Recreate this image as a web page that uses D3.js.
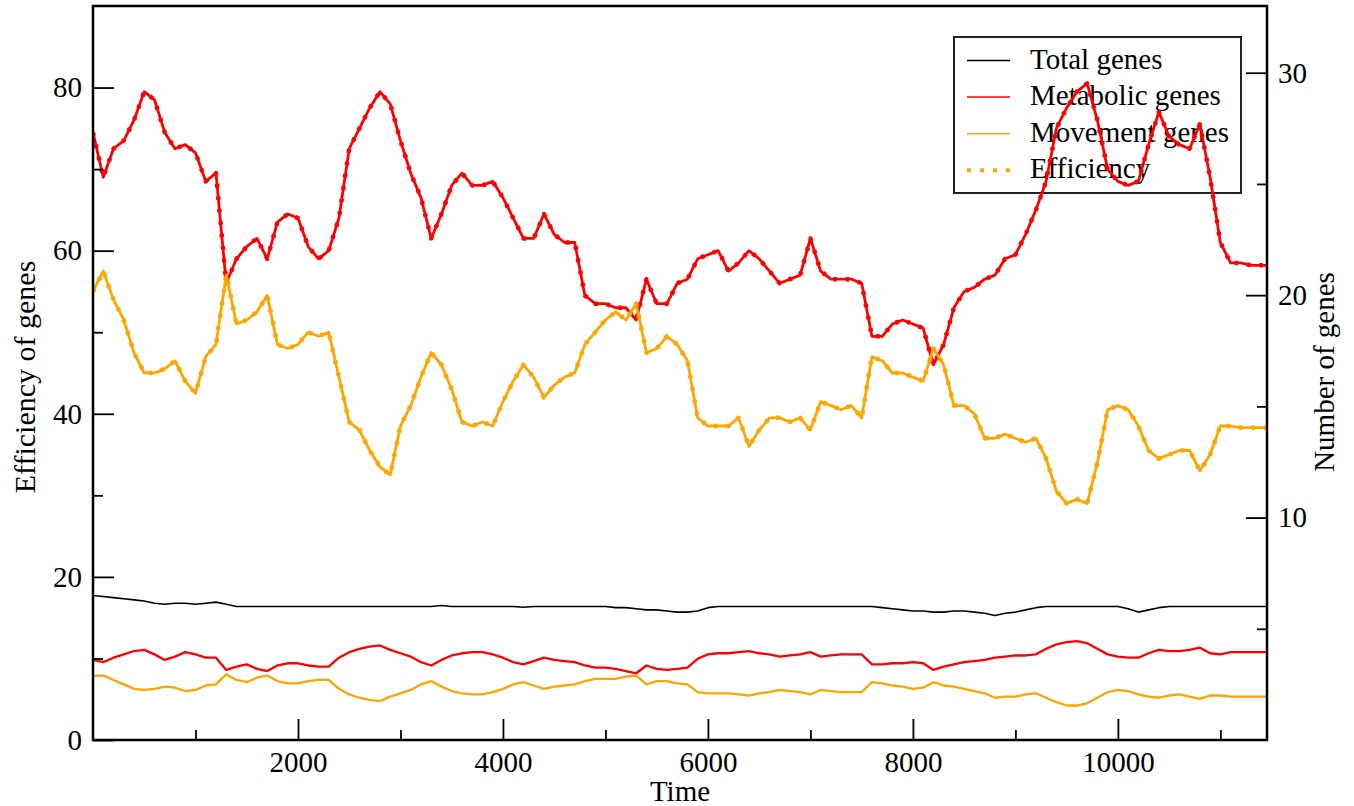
<!DOCTYPE html>
<html>
<head>
<meta charset="utf-8">
<script src="https://cdn.jsdelivr.net/npm/d3@7"></script>
<style>
  body { margin: 0; background: #fff; }
  svg text { font-family: "Liberation Serif", "Times New Roman", serif !important; fill: #000; }
</style>
</head>
<body>
<svg id="chart" width="1354" height="806"></svg>
<script>
// samples every 100 time units, from 0 to 11500
const timeStep = 100;

// efficiency (left axis)
const metabolicEfficiency = [
  74.5, 69, 72.5, 73.5, 76, 79.5, 78.5, 74.5, 72.5, 73,
  72, 68.5, 69.5, 56, 59, 60.5, 61.5, 59, 63.5, 64.5,
  64, 60.5, 59, 60, 64, 72.5, 75, 77.5, 79.5, 78,
  73.5, 69.5, 66.5, 61.5, 64.5, 68, 69.5, 68, 68, 68.5,
  66.5, 64, 61.5, 61.5, 64.5, 62, 61, 61, 54.5, 53.5,
  53.5, 53, 53, 51.5, 56.5, 53.5, 53.5, 56, 56.5, 59,
  59.5, 60, 57.5, 58.5, 60, 59, 57.5, 56, 56.5, 57,
  61.5, 57.5, 56.5, 56.5, 56.5, 56, 49.5, 49.5, 51, 51.5,
  51, 50.5, 46, 48.5, 53, 55, 55.5, 56.5, 57, 59,
  59.5, 62, 65, 68.5, 75, 77.5, 79.5, 80.5, 76, 70,
  68.5, 68, 68.5, 73, 77, 74, 73, 72.5, 75.5, 69,
  61, 58.5, 58.5, 58.2, 58.2, 58.2
];
const movementEfficiency = [
  55, 57.5, 54, 51.5, 47.5, 45, 45, 45.5, 46.5, 44,
  42.5, 47, 48.5, 57, 51, 51.5, 52.5, 54.5, 48.5, 48,
  48.5, 50, 49.5, 50, 44.5, 39, 38, 35.5, 33.5, 32.5,
  38.5, 41, 44.5, 47.5, 46, 43, 39, 38.5, 39, 38.5,
  41.5, 44, 46, 44.5, 42, 43.5, 44.5, 45, 48.5, 50,
  51.5, 52.5, 51.5, 53.5, 47.5, 48, 49.5, 48.5, 46.5, 39.5,
  38.5, 38.5, 38.5, 39.5, 36, 38, 39.5, 39.5, 39, 39.5,
  38, 41.5, 41, 40.5, 41, 39.5, 47, 46.5, 45, 45,
  44.5, 44, 48, 46, 41, 41, 40, 37, 37, 37.5,
  37, 36.5, 37, 34.5, 30.5, 29, 29.5, 29, 34, 40.5,
  41, 40.5, 38.5, 35.5, 34.5, 35, 35.5, 35.5, 33, 35,
  38.5, 38.5, 38.3, 38.3, 38.3, 38.3
];

// number of genes (right axis)
const totalGenes = [
  6.5, 6.45, 6.4, 6.35, 6.3, 6.25, 6.15, 6.1, 6.15, 6.15,
  6.1, 6.15, 6.2, 6.1, 6.0, 6, 6, 6, 6, 6,
  6, 6, 6, 6, 6, 6, 6, 6, 6, 6,
  6, 6, 6, 6, 6.05, 6, 6, 6, 6, 6,
  6, 6, 5.97, 6, 6, 6, 6, 6, 6, 6,
  6, 5.95, 5.95, 5.9, 5.85, 5.85, 5.8, 5.75, 5.75, 5.8,
  5.95, 6, 6, 6, 6, 6, 6, 6, 6, 6,
  6, 6, 6, 6, 6, 6, 6, 5.95, 5.9, 5.85,
  5.8, 5.8, 5.75, 5.75, 5.8, 5.8, 5.75, 5.7, 5.6, 5.7,
  5.75, 5.85, 5.95, 6, 6, 6, 6, 6, 6, 6,
  6, 5.9, 5.75, 5.85, 5.95, 6, 6, 6, 6, 6,
  6, 6, 6, 6, 6, 6
];
const metabolicGenes = [
  3.6, 3.5, 3.7, 3.85, 4.0, 4.05, 3.85, 3.6, 3.75, 3.95,
  3.85, 3.7, 3.7, 3.15, 3.3, 3.4, 3.2, 3.1, 3.35, 3.45,
  3.45, 3.35, 3.3, 3.3, 3.7, 3.95, 4.1, 4.2, 4.25, 4.05,
  3.9, 3.75, 3.5, 3.35, 3.6, 3.8, 3.9, 3.95, 3.95, 3.85,
  3.7, 3.5, 3.4, 3.55, 3.7, 3.6, 3.55, 3.5, 3.35, 3.25,
  3.25, 3.2, 3.1, 3.0, 3.35, 3.2, 3.15, 3.2, 3.25, 3.65,
  3.85, 3.9, 3.9, 3.95, 4.0, 3.9, 3.85, 3.75, 3.8, 3.85,
  3.95, 3.75, 3.8, 3.85, 3.85, 3.85, 3.4, 3.4, 3.45, 3.45,
  3.5, 3.45, 3.15, 3.3, 3.4, 3.5, 3.55, 3.6, 3.7, 3.75,
  3.8, 3.8, 3.85, 4.1, 4.3, 4.4, 4.45, 4.35, 4.1, 3.85,
  3.75, 3.7, 3.7, 3.9, 4.05, 4.0, 4.0, 4.05, 4.15, 3.9,
  3.85, 3.95, 3.95, 3.95, 3.95, 3.95
];
const movementGenes = [
  2.88, 2.9, 2.7, 2.5, 2.3, 2.25, 2.3, 2.4, 2.35, 2.2,
  2.25, 2.45, 2.5, 2.95, 2.7, 2.6, 2.8, 2.9, 2.65, 2.55,
  2.55, 2.65, 2.7, 2.7, 2.3, 2.05, 1.9, 1.8, 1.75, 1.95,
  2.1, 2.25, 2.5, 2.65, 2.4, 2.2, 2.1, 2.05, 2.05, 2.15,
  2.3, 2.5, 2.6, 2.45, 2.3, 2.4, 2.45, 2.5, 2.65, 2.75,
  2.75, 2.75, 2.85, 2.9, 2.5, 2.65, 2.65, 2.55, 2.5, 2.15,
  2.1, 2.1, 2.1, 2.05, 2.0, 2.1, 2.15, 2.25, 2.2, 2.15,
  2.05, 2.25, 2.2, 2.15, 2.15, 2.15, 2.6, 2.55, 2.45, 2.4,
  2.3, 2.35, 2.6, 2.45, 2.4, 2.3, 2.2, 2.1, 1.9, 1.95,
  1.95, 2.05, 2.1, 1.9, 1.7, 1.55, 1.55, 1.65, 1.9, 2.15,
  2.25, 2.2, 2.05, 1.95, 1.9, 2.0, 2.05, 1.95, 1.85, 2.0,
  2.0, 1.95, 1.95, 1.95, 1.95, 1.95
];

const xTicks = [2000, 4000, 6000, 8000, 10000];
const xMinorTicks = [1000, 3000, 5000, 7000, 9000, 11000];
const leftTicks = [0, 20, 40, 60, 80];
const leftMinorTicks = [10, 30, 50, 70];
const rightTicks = [10, 20, 30];
const rightMinorTicks = [5, 15, 25];
const legendLabels = ["Total genes", "Metabolic genes", "Movement genes", "Efficiency"];

const svg = d3.select("#chart");
const plotLeft = 93, plotRight = 1267, plotTop = 6, plotBottom = 740;
const fontSize = 29;
const serif = '"Liberation Serif", "Times New Roman", serif';

const x = d3.scaleLinear().domain([0, 11455]).range([plotLeft, plotRight]);
const yL = d3.scaleLinear().domain([0, 90]).range([plotBottom, plotTop]);
const yR = d3.scaleLinear().domain([0, 33]).range([plotBottom, plotTop]);

svg.append("defs").append("clipPath").attr("id", "plotclip")
  .append("rect").attr("x", plotLeft).attr("y", plotTop)
  .attr("width", plotRight - plotLeft).attr("height", plotBottom - plotTop);

// legend box sits under the curves
const legend = svg.append("g");
legend.append("rect")
  .attr("x", 954).attr("y", 37).attr("width", 287).attr("height", 156)
  .attr("fill", "#fff").attr("stroke", "#222").attr("stroke-width", 2);
const legendStyles = [
  { color: "#000", dash: null, w: 1.5 },
  { color: "#ff0000", dash: null, w: 1.5 },
  { color: "#ffa500", dash: null, w: 1.5 },
  { color: "#ffa500", dash: "4,9", w: 4 }
];
legendLabels.forEach((lab, i) => {
  let yy = 60.5 + i * 36.6;
  legend.append("line")
    .attr("x1", 967).attr("x2", 1010).attr("y1", yy).attr("y2", yy)
    .attr("stroke", legendStyles[i].color)
    .attr("stroke-width", legendStyles[i].w)
    .attr("stroke-dasharray", legendStyles[i].dash);
  legend.append("text")
    .attr("x", 1030).attr("y", yy + 8)
    .style("font-family", serif)
    .style("font-size", fontSize + "px")
    .text(lab);
});

// curves
const plot = svg.append("g").attr("clip-path", "url(#plotclip)");
const lineL = d3.line().x((d, i) => x(i * timeStep)).y(d => yL(d));
const lineR = d3.line().x((d, i) => x(i * timeStep)).y(d => yR(d));

const series = [
  { data: totalGenes, line: lineR, color: "#000", w: 1.6, dash: null },
  { data: metabolicGenes, line: lineR, color: "#ff0000", w: 2.3, dash: null },
  { data: movementGenes, line: lineR, color: "#ffa500", w: 2.3, dash: null },
  { data: metabolicEfficiency, line: lineL, color: "#ff0000", w: 2.8, dash: null },
  { data: metabolicEfficiency, line: lineL, color: "#ff0000", w: 4.5, dash: "3.5,9" },
  { data: movementEfficiency, line: lineL, color: "#ffa500", w: 2.8, dash: null },
  { data: movementEfficiency, line: lineL, color: "#ffa500", w: 4.5, dash: "3.5,9" }
];
plot.selectAll("path.series").data(series).join("path")
  .attr("class", "series")
  .attr("d", d => d.line(d.data))
  .attr("fill", "none")
  .attr("stroke", d => d.color)
  .attr("stroke-width", d => d.w)
  .attr("stroke-dasharray", d => d.dash)
  .attr("stroke-linejoin", "round");

// axes, ticks inside the frame
function styleAxis(g) {
  g.attr("font-family", serif).attr("font-size", fontSize);
  g.select(".domain").remove();
  g.selectAll(".tick line").attr("stroke", "#000").attr("stroke-width", 1.8);
  g.selectAll(".tick text")
    .style("font-family", serif)
    .style("font-size", fontSize + "px")
    .attr("fill", "#000");
}

svg.append("g").attr("transform", `translate(0,${plotBottom})`)
  .call(d3.axisBottom(x).tickValues(xTicks).tickSize(-21).tickPadding(11).tickFormat(d3.format("d")))
  .call(styleAxis);
svg.append("g").attr("transform", `translate(0,${plotBottom})`)
  .call(d3.axisBottom(x).tickValues(xMinorTicks).tickSize(-10).tickFormat(""))
  .call(styleAxis);

svg.append("g").attr("transform", `translate(${plotLeft},0)`)
  .call(d3.axisLeft(yL).tickValues(leftTicks).tickSize(-21).tickPadding(11))
  .call(styleAxis);
svg.append("g").attr("transform", `translate(${plotLeft},0)`)
  .call(d3.axisLeft(yL).tickValues(leftMinorTicks).tickSize(-10).tickFormat(""))
  .call(styleAxis);

svg.append("g").attr("transform", `translate(${plotRight},0)`)
  .call(d3.axisRight(yR).tickValues(rightTicks).tickSize(-21).tickPadding(11))
  .call(styleAxis);
svg.append("g").attr("transform", `translate(${plotRight},0)`)
  .call(d3.axisRight(yR).tickValues(rightMinorTicks).tickSize(-10).tickFormat(""))
  .call(styleAxis);

// frame
svg.append("rect")
  .attr("x", plotLeft).attr("y", plotTop)
  .attr("width", plotRight - plotLeft).attr("height", plotBottom - plotTop)
  .attr("fill", "none").attr("stroke", "#000").attr("stroke-width", 2.5);

// titles
svg.append("text")
  .attr("x", (plotLeft + plotRight) / 2).attr("y", 801)
  .attr("text-anchor", "middle")
  .style("font-family", serif)
  .style("font-size", fontSize + "px")
  .text("Time");
svg.append("text")
  .attr("transform", "translate(35,377) rotate(-90)")
  .attr("text-anchor", "middle")
  .style("font-family", serif)
  .style("font-size", "30px")
  .text("Efficiency of genes");
svg.append("text")
  .attr("transform", "translate(1334,372) rotate(-90)")
  .attr("text-anchor", "middle")
  .style("font-family", serif)
  .style("font-size", fontSize + "px")
  .text("Number of genes");
</script>
</body>
</html>
